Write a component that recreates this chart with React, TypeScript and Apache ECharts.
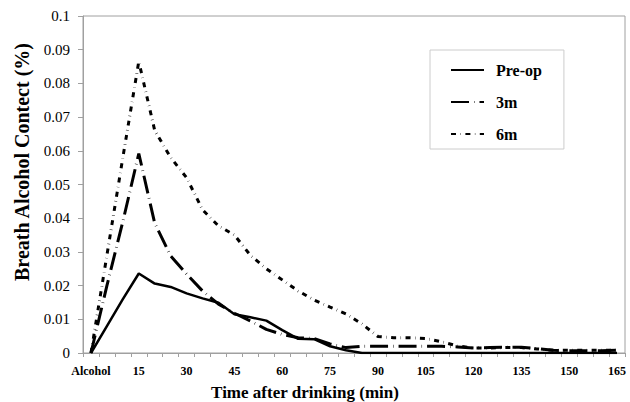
import React, { useEffect, useRef } from "react";
import * as echarts from "echarts";

const categories = [
  "Alcohol", "5", "10", "15", "20", "25", "30", "35", "40", "45", "50", "55",
  "60", "65", "70", "75", "80", "85", "90", "95", "100", "105", "110", "115",
  "120", "125", "130", "135", "140", "145", "150", "155", "160", "165",
];

const preOp = [
  0, 0.008, 0.016, 0.0236, 0.0206, 0.0196, 0.0177, 0.0162, 0.0149, 0.0115,
  0.0106, 0.0096, 0.0068, 0.0042, 0.0041, 0.002, 0.0008, 0,
  0, 0, 0, 0, 0, 0, 0, 0, 0, 0, 0, 0, 0, 0, 0, 0,
];

const threeM = [
  0, 0.02, 0.039, 0.0592, 0.0385, 0.0288, 0.0234, 0.0184, 0.0145, 0.0118,
  0.0095, 0.007, 0.0055, 0.0045, 0.0043, 0.0027, 0.0016, 0.002,
  0.002, 0.002, 0.002, 0.002, 0.002, 0.0018, 0.0015, 0.0016, 0.0017, 0.0017,
  0.0013, 0.0008, 0.0007, 0.0007, 0.0007, 0.0008,
];

const sixM = [
  0, 0.029, 0.058, 0.0865, 0.066, 0.058, 0.052, 0.0425, 0.0377, 0.035,
  0.029, 0.025, 0.0217, 0.0184, 0.0157, 0.0136, 0.0116, 0.0086,
  0.0049, 0.0045, 0.0045, 0.0043, 0.0033, 0.0021, 0.0015, 0.0015, 0.0016,
  0.0016, 0.0012, 0.0008, 0.0008, 0.0008, 0.0008, 0.0008,
];

const seriesNames = ["Pre-op", "3m", "6m"];
const yTitle = "Breath Alcohol Contect (%)";
const xTitle = "Time after drinking (min)";

const SERIF = "'Liberation Serif', 'Times New Roman', serif";

export default function App() {
  const ref = useRef<HTMLDivElement>(null);

  useEffect(() => {
    if (!ref.current) return;
    const chart = echarts.init(ref.current, undefined, { renderer: "svg" });
    chart.setOption({
      animation: false,
      backgroundColor: "#ffffff",
      grid: {
        left: 83,
        right: 5,
        top: 16,
        bottom: 49,
        show: true,
        borderColor: "#a0a0a0",
        borderWidth: 1,
      },
      legend: {
        orient: "vertical",
        left: 430,
        top: 50,
        padding: [12, 22, 7, 20],
        itemGap: 16,
        itemWidth: 33,
        itemHeight: 14,
        borderColor: "#cccccc",
        borderWidth: 1,
        data: seriesNames,
        itemStyle: { opacity: 0, borderWidth: 0 },
        textStyle: {
          fontFamily: SERIF,
          fontWeight: "bold",
          fontSize: 16,
          color: "#000",
          padding: [0, 0, 0, 7],
        },
      },
      xAxis: {
        type: "category",
        data: categories,
        boundaryGap: true,
        axisLine: { lineStyle: { color: "#a0a0a0", width: 1 } },
        axisTick: {
          show: true,
          interval: 0,
          length: 4,
          lineStyle: { color: "#a0a0a0" },
        },
        axisLabel: {
          interval: 2,
          margin: 12,
          fontFamily: SERIF,
          fontWeight: "bold",
          fontSize: 12,
          color: "#000",
        },
        splitLine: { show: false },
      },
      yAxis: {
        type: "value",
        min: 0,
        max: 0.1,
        interval: 0.01,
        axisLine: { show: true, lineStyle: { color: "#a0a0a0", width: 1 } },
        axisTick: { show: true, length: 5, lineStyle: { color: "#a0a0a0" } },
        axisLabel: {
          margin: 13,
          fontFamily: SERIF,
          fontSize: 15,
          color: "#000",
          formatter: (v: number) => String(Math.round(v * 100) / 100),
        },
        splitLine: { show: false },
      },
      graphic: [
        {
          type: "text",
          x: 22,
          y: 162,
          rotation: Math.PI / 2,
          style: {
            text: yTitle,
            fontFamily: SERIF,
            fontWeight: "bold",
            fontSize: 20,
            fill: "#000",
            textAlign: "center",
            textVerticalAlign: "middle",
          },
        },
        {
          type: "text",
          x: 305,
          y: 392,
          style: {
            text: xTitle,
            fontFamily: SERIF,
            fontWeight: "bold",
            fontSize: 17,
            fill: "#000",
            textAlign: "center",
            textVerticalAlign: "middle",
          },
        },
      ],
      series: [
        {
          name: seriesNames[0],
          type: "line",
          data: preOp,
          symbol: "none",
          lineStyle: { color: "#000", width: 2.5, type: "solid" },
          itemStyle: { color: "#000" },
        },
        {
          name: seriesNames[1],
          type: "line",
          data: threeM,
          symbol: "none",
          lineStyle: { color: "#000", width: 3, type: [18, 5, 0.5, 5] },
          itemStyle: { color: "#000" },
        },
        {
          name: seriesNames[2],
          type: "line",
          data: sixM,
          symbol: "none",
          lineStyle: { color: "#000", width: 3, type: [5, 4.5, 0.4, 4.5] },
          itemStyle: { color: "#000" },
        },
      ],
    });
    return () => chart.dispose();
  }, []);

  return (
    <div
      ref={ref}
      style={{ position: "fixed", left: 0, top: 0, width: 630, height: 402, background: "#fff" }}
    />
  );
}
